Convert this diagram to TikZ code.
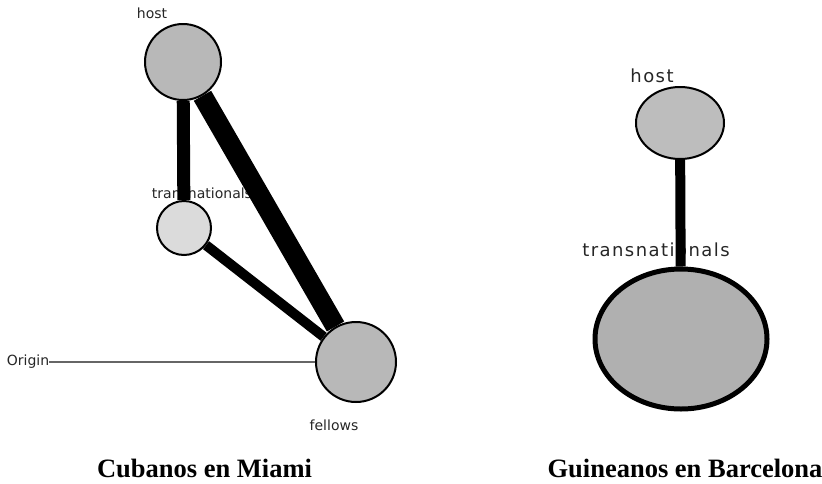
\documentclass[tikz,border=0pt]{standalone}
\usepackage{fontspec}
\setmainfont{Liberation Serif}
\newfontfamily\netfont{DejaVu Sans}
\newfontfamily\netfontwide[LetterSpace=8]{DejaVu Sans}
\usetikzlibrary{shapes.geometric}
\usetikzlibrary{backgrounds}

\begin{document}
\begin{tikzpicture}[x=1pt,y=-1pt,
  actor/.style={circle,draw=black,line width=2pt,inner sep=0pt},
  blob/.style={ellipse,draw=black,inner sep=0pt},
  tie/.style={line width=#1,black},
  lbl/.style={font=\netfont\fontsize{14}{16}\selectfont,text=black!85,inner sep=0pt},
  lblwide/.style={font=\netfontwide\fontsize{18}{20}\selectfont,text=black!85,inner sep=0pt},
  caption/.style={font=\bfseries\fontsize{26.5}{30}\selectfont,anchor=base,inner sep=0pt}]
\useasboundingbox (0,0) rectangle (822,483);
% Cubanos en Miami
\node at (183,62)[actor,fill=black!28,minimum size=76pt] (host) {};
\node at (184,228)[actor,fill=black!14,minimum size=54pt] (trans) {};
\node at (356,362)[actor,fill=black!28,minimum size=80pt] (fellows) {};
% Guineanos en Barcelona
\node at (680,123)[blob,line width=2pt,fill=black!26,minimum width=88pt,minimum height=72pt] (bhost) {};
\node at (681,339)[blob,line width=5pt,fill=black!31,minimum width=172pt,minimum height=140pt] (btrans) {};
\begin{pgfonlayer}{background}
\node at (152,13)[lbl] (hostl) {host};
\node at (202,193)[lbl] (transl) {transnationals};
\node at (334,425)[lbl] (fellowsl) {fellows};
\node at (28,362)[lbl] (origin) {Origin};
\node at (652,76)[lblwide] (bhostl) {host};
\node at (656,250)[lblwide] (btransl) {transnationals};
\draw[tie=13pt] (host) -- (trans);
\draw[tie=20pt] (host) -- (fellows);
\draw[tie=10pt] (trans) -- (fellows);
\draw[black!60,line width=1.5pt] (origin) -- (fellows);
\draw[tie=10pt] (bhost) -- (btrans);
\end{pgfonlayer}
\node at (204.5,477)[caption] (cubanos) {Cubanos en Miami};
\node at (685,477)[caption] (guineanos) {Guineanos en Barcelona};
\end{tikzpicture}
\end{document}
